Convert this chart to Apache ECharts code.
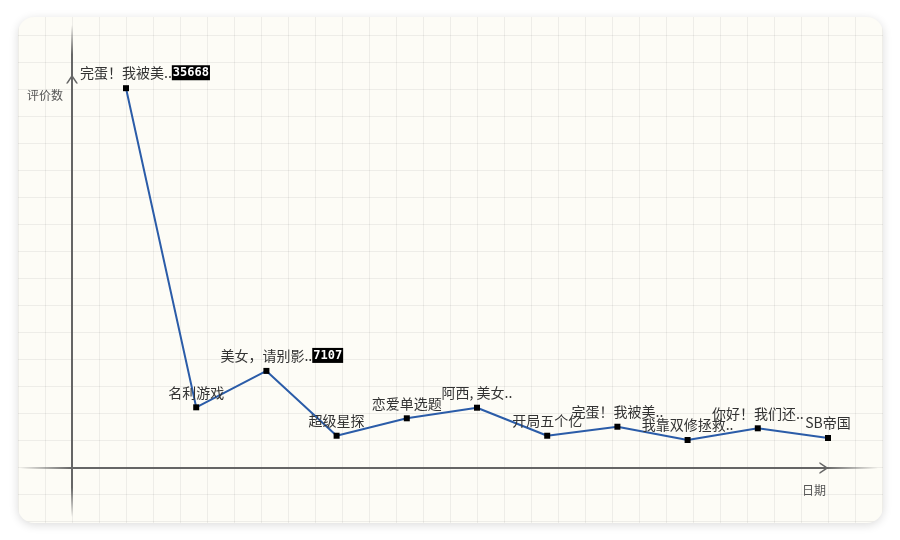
<!DOCTYPE html>
<html>
<head>
<meta charset="utf-8">
<script src="https://cdn.jsdelivr.net/npm/echarts@6/dist/echarts.min.js"></script>
<style>
  html, body { margin: 0; padding: 0; background: #fff; }
  #wrap { position: relative; width: 900px; height: 540px; overflow: hidden; }
  #card {
    position: absolute; left: 18px; top: 17px; width: 865px; height: 506px;
    border-radius: 16px; background-color: #fdfcf6;
    background-image:
      linear-gradient(to right, rgba(0,0,0,0.06) 1px, transparent 1px),
      linear-gradient(to bottom, rgba(0,0,0,0.06) 1px, transparent 1px);
    background-size: 27px 27px;
    background-position: 0 18px;
    box-shadow: 0 2px 10px rgba(0,0,0,0.14);
  }
  .hline { position: absolute; left: 20px; top: 467px; width: 858px; height: 2px;
    background: linear-gradient(to right, rgba(100,100,100,0), #666 6%, #666 94%, rgba(100,100,100,0)); }
  .vline { position: absolute; left: 71px; top: 25px; width: 2px; height: 492px;
    background: linear-gradient(to bottom, rgba(100,100,100,0), #666 6%, #666 94%, rgba(100,100,100,0)); }
  #main { position: absolute; left: 0; top: 0; width: 900px; height: 540px; }
</style>
</head>
<body>
<div id="wrap">
  <div id="card"></div>
  <div class="hline"></div>
  <div class="vline"></div>
  <div id="main"></div>
</div>
<script>
var titles = ['完蛋！我被美..', '名利游戏', '美女，请别影..', '超级星探', '恋爱单选题', '阿西, 美女..',
              '开局五个亿', '完蛋！我被美..', '我靠双修拯救..', '你好！我们还..', 'SB帝国'];
var reviews = [35668, 3430, 7107, 560, 2320, 3390, 560, 1470, 130, 1310, 330];

// 空心的箭头
var chevron = 'path://M0,9 L6,0 L12,9 L10.2,9 L6,2.7 L1.8,9 Z';

// 评价数较多的作品在名字后面带上数值
var points = [];
for (var i = 0; i < reviews.length; i++) {
    var item = { value: reviews[i] };
    if (reviews[i] > 5000) {
        item.label = {
            formatter: '{n|{b}}{v|{c}}',
            offset: [String(reviews[i]).length * 3.6 + 1, 0]
        };
    }
    points.push(item);
}

var axisLine = {
    show: true,
    onZero: false,
    lineStyle: { color: '#666', width: 1.5 },
    symbol: ['none', chevron],
    symbolSize: [13, 9],
    symbolOffset: [0, -4]
};

var myChart = echarts.init(document.getElementById('main'));
var option = {
    animation: false,
    backgroundColor: 'transparent',
    grid: { left: 126, right: 72, top: 75, bottom: 72 },
    xAxis: {
        type: 'category',
        data: titles,
        boundaryGap: false,
        name: '日期',
        nameLocation: 'end',
        nameGap: 0,
        nameTextStyle: {
            color: '#555', fontSize: 12, fontFamily: 'Noto Sans CJK SC',
            align: 'right', verticalAlign: 'top', padding: [16, 2, 0, 0]
        },
        axisLine: axisLine,
        axisTick: { show: false },
        axisLabel: { show: false },
        splitLine: { show: false }
    },
    yAxis: {
        type: 'value',
        min: -2700,
        max: 37000,
        offset: 54,
        name: '评价数',
        nameLocation: 'end',
        nameGap: -14,
        nameTextStyle: {
            color: '#555', fontSize: 12, fontFamily: 'Noto Sans CJK SC',
            align: 'right', verticalAlign: 'top', padding: [0, 9, 0, 0]
        },
        axisLine: axisLine,
        axisTick: { show: false },
        axisLabel: { show: false },
        splitLine: { show: false }
    },
    series: [
        {
            type: 'line',
            data: points,
            symbol: 'rect',
            symbolSize: 6,
            itemStyle: { color: '#000' },
            lineStyle: { color: '#2b5ca8', width: 2 },
            label: {
                show: true,
                position: 'top',
                distance: 5,
                formatter: '{b}',
                color: '#333',
                fontSize: 14,
                fontFamily: 'Noto Sans CJK SC',
                rich: {
                    n: { color: '#333', fontSize: 14, fontFamily: 'Noto Sans CJK SC' },
                    v: {
                        color: '#fff', backgroundColor: '#000', fontSize: 12,
                        fontWeight: 'bold', fontFamily: 'DejaVu Sans Mono',
                        padding: [2, 1, 1, 1]
                    }
                }
            }
        }
    ]
};
myChart.setOption(option);
</script>
</body>
</html>
